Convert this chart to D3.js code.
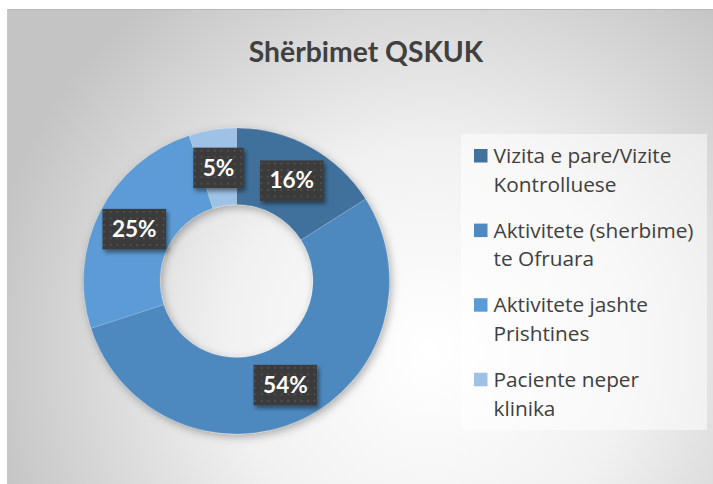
<!DOCTYPE html>
<html>
<head>
<meta charset="utf-8">
<script src="https://cdn.jsdelivr.net/npm/d3@7"></script>
<style>
  body { margin: 0; background: #fff; }
  svg { display: block; }
  text { font-family: Lato, "Open Sans", sans-serif; }
  .legend text { font-family: "Open Sans", Lato, sans-serif; }
</style>
</head>
<body>
<div id="chart"></div>
<script>
// Chart data
var title = "Shërbimet QSKUK";
var categories = [
    ["Vizita e pare/Vizite", "Kontrolluese"],
    ["Aktivitete (sherbime)", "te Ofruara"],
    ["Aktivitete jashte", "Prishtines"],
    ["Paciente neper", "klinika"]
];
var values = [16, 54, 25, 5];
var labels = ["16%", "54%", "25%", "5%"];
var colors = ["#41719c", "#4e89bf", "#5b9bd5", "#9dc2e6"];

// SVG dimensions
var svgWidth = 713;
var svgHeight = 484;

var svg = d3.select("#chart")
    .append("svg")
    .attr("width", svgWidth)
    .attr("height", svgHeight);

var defs = svg.append("defs");

// radial background
var bg = defs.append("radialGradient")
    .attr("id", "bgGrad")
    .attr("gradientUnits", "userSpaceOnUse")
    .attr("cx", 430).attr("cy", 350).attr("r", 450);
bg.append("stop").attr("offset", 0).attr("stop-color", "#ffffff");
bg.append("stop").attr("offset", 0.45).attr("stop-color", "#f1f1f1");
bg.append("stop").attr("offset", 1).attr("stop-color", "#c4c4c4");

// dotted pattern for data labels
var pat = defs.append("pattern")
    .attr("id", "dots")
    .attr("patternUnits", "userSpaceOnUse")
    .attr("width", 6.6).attr("height", 6.6);
pat.append("rect").attr("width", 6.6).attr("height", 6.6).attr("fill", "#3b3b3b");
pat.append("rect").attr("x", 2).attr("y", 2).attr("width", 1.6).attr("height", 1.6).attr("fill", "#585858");

// shadows
var sh = defs.append("filter").attr("id", "shadow")
    .attr("x", "-20%").attr("y", "-20%").attr("width", "140%").attr("height", "140%");
sh.append("feDropShadow").attr("dx", 2).attr("dy", 3).attr("stdDeviation", 4)
    .attr("flood-color", "#000").attr("flood-opacity", 0.3);

var sh2 = defs.append("filter").attr("id", "lblShadow")
    .attr("x", "-30%").attr("y", "-30%").attr("width", "160%").attr("height", "160%");
sh2.append("feDropShadow").attr("dx", 2).attr("dy", 3).attr("stdDeviation", 2)
    .attr("flood-color", "#000").attr("flood-opacity", 0.45);

// chart area
svg.append("rect")
    .attr("x", 7).attr("y", 9)
    .attr("width", svgWidth - 7).attr("height", svgHeight - 9)
    .attr("fill", "url(#bgGrad)");
svg.append("line")
    .attr("x1", 7).attr("x2", svgWidth).attr("y1", 9.5).attr("y2", 9.5)
    .attr("stroke", "#b8b8b8").attr("stroke-width", 1);
svg.append("line")
    .attr("x1", 7.5).attr("x2", 7.5).attr("y1", 9).attr("y2", svgHeight)
    .attr("stroke", "#c8c8c8").attr("stroke-width", 1);

// title
svg.append("text")
    .attr("x", 366).attr("y", 62)
    .attr("text-anchor", "middle")
    .attr("font-size", 28.3)
    .attr("font-weight", "bold")
    .attr("fill", "#404040")
    .text(title);

// donut
var cx = 236.5, cy = 281;
var outerR = 153, innerR = 76.5;

var pie = d3.pie().sort(null).value(d => d);
var arc = d3.arc().innerRadius(innerR).outerRadius(outerR);
var arcs = pie(values);

var donut = svg.append("g")
    .attr("transform", `translate(${cx}, ${cy})`);

donut.append("g")
    .attr("filter", "url(#shadow)")
    .selectAll("path")
    .data(arcs)
    .enter()
    .append("path")
    .attr("d", arc)
    .attr("fill", (d, i) => colors[i])
    .attr("stroke", "#ffffff")
    .attr("stroke-opacity", 0.25)
    .attr("stroke-width", 0.6);

// data labels
var lbl = donut.selectAll(".lbl")
    .data(arcs)
    .enter()
    .append("g")
    .attr("class", "lbl")
    .attr("transform", d => `translate(${arc.centroid(d)})`);

lbl.each(function(d, i) {
    var g = d3.select(this);
    var t = g.append("text")
        .attr("text-anchor", "middle")
        .attr("y", 8)
        .attr("font-size", 22.5)
        .attr("font-weight", "bold")
        .attr("fill", "#ffffff")
        .text(labels[i]);
    var w = t.node().getComputedTextLength() + 19;
    g.insert("rect", "text")
        .attr("x", -w / 2).attr("y", -20)
        .attr("width", w).attr("height", 40.5)
        .attr("fill", "url(#dots)")
        .attr("filter", "url(#lblShadow)");
});

// legend
svg.append("rect")
    .attr("x", 461).attr("y", 134)
    .attr("width", 246).attr("height", 296)
    .attr("fill", "#ffffff")
    .attr("fill-opacity", 0.5);

var legend = svg.selectAll(".legend")
    .data(categories)
    .enter()
    .append("g")
    .attr("class", "legend")
    .attr("transform", (d, i) => `translate(474, ${149 + i * 74.6})`);

legend.append("rect")
    .attr("width", 13.5).attr("height", 13.5)
    .attr("fill", (d, i) => colors[i]);

legend.each(function(d) {
    var g = d3.select(this);
    d.forEach(function(line, j) {
        g.append("text")
            .attr("x", 19.5)
            .attr("y", 14 + j * 28.8)
            .attr("font-size", 20.8)
            .attr("fill", "#404040")
            .text(line);
    });
});
</script>
</body>
</html>
